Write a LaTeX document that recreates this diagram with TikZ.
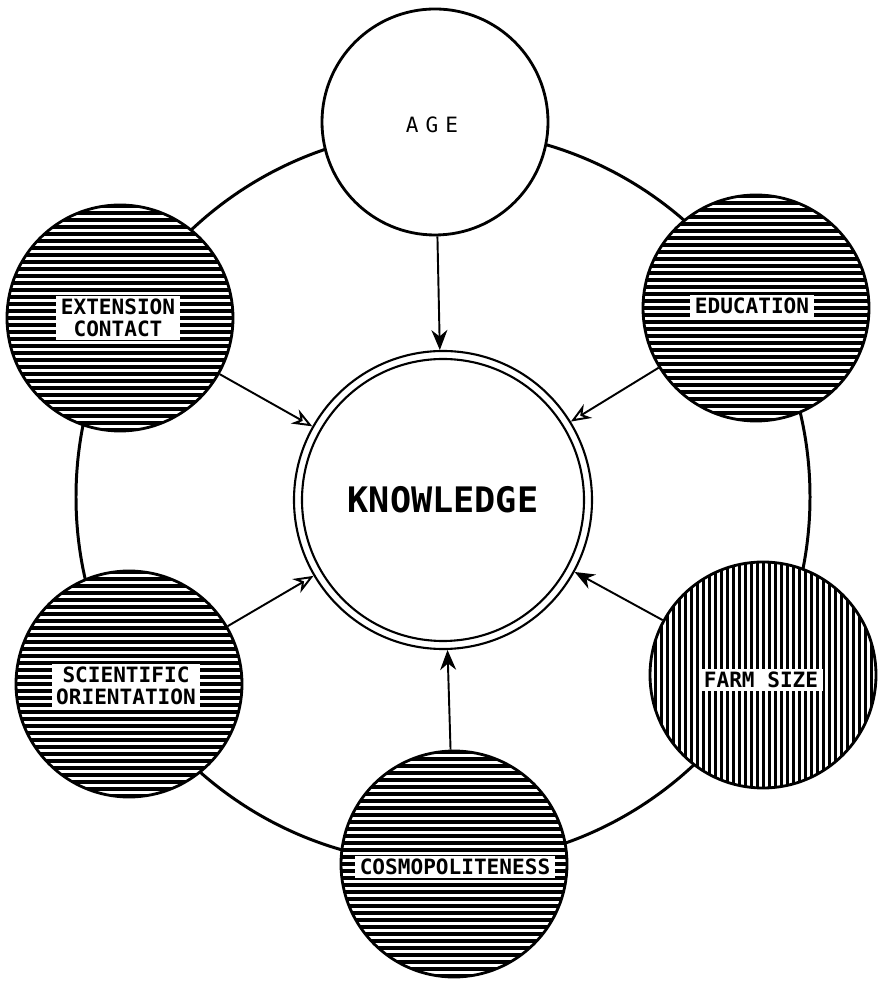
\documentclass[tikz,border=0pt]{standalone}
\usepackage{fontspec}
\newfontfamily\letterfont{DejaVu Sans Mono}
\usepackage{tikz}
\usetikzlibrary{arrows.meta}

\begin{document}
\begin{tikzpicture}[
  factor/.style={draw, circle, line width=1.6pt, fill=white, minimum size=4.52cm},
  hlines/.style={path picture={\foreach \k in {-17,...,17}
      \draw[line width=0.062cm] ([yshift=\k*0.14cm]path picture bounding box.west)
        -- ([yshift=\k*0.14cm]path picture bounding box.east);}},
  vlines/.style={path picture={\foreach \k in {-20,...,20}
      \draw[line width=0.06cm] ([xshift=\k*0.12cm]path picture bounding box.north)
        -- ([xshift=\k*0.12cm]path picture bounding box.south);}},
  tag/.style={fill=white, font=\letterfont\bfseries\fontsize{12}{12.5}\selectfont, align=center,
    inner xsep=2.5pt, inner ysep=1.5pt},
  feed/.style={line width=1.1pt, -{Stealth[length=4mm, width=3.2mm, open]}},
  feedfill/.style={line width=1.1pt, -{Stealth[length=4mm, width=3.2mm]}},
]
\useasboundingbox (-8.86,-9.64) rectangle (8.80,10.00);
% ring joining the six factors
\coordinate (hub) at (0,0.06);
\draw[line width=1.7pt] (hub) circle (7.34);

% the factors
\node[factor] (age) at (-0.16, 7.56) {};
\node[factor, hlines] (edu) at (6.26, 3.84) {};
\node[factor, hlines] (ext) at (-6.46, 3.64) {};
\node[factor, hlines] (sci) at (-6.28, -3.68) {};
\node[factor, vlines] (farm) at (6.40, -3.50) {};
\node[factor, hlines] (cosmo) at (0.22, -7.28) {};

\node[tag, fill=none, font=\letterfont\fontsize{12}{12.5}\selectfont] (agetag) at (-0.22, 7.50)
  {A\kern4pt G\kern4pt E};
\node[tag] (edutag) at (6.18, 3.88) {EDUCATION};
\node[tag] (exttag) at (-6.50, 3.64) {EXTENSION\\CONTACT};
\node[tag] (scitag) at (-6.34, -3.72) {SCIENTIFIC\\ORIENTATION};
\node[tag] (farmtag) at (6.36, -3.60) {FARM SIZE};
\node[tag] (cosmotag) at (0.24, -7.34) {COSMOPOLITENESS};

% knowledge in the middle, double rim
\node[draw, circle, line width=1.2pt, minimum size=5.96cm] (know) at (0,0) {};
\node[draw, circle, line width=1.2pt, minimum size=5.64cm,
  font=\letterfont\bfseries\fontsize{20}{22}\selectfont] (knowin) at (know) {KNOWLEDGE};

% every factor points at knowledge
\draw[feedfill] (age) -- (know);
\draw[feed] (edu) -- (know);
\draw[feed] (ext) -- (know);
\draw[feed] (sci) -- (know);
\draw[feedfill] (farm) -- (know);
\draw[feedfill] (cosmo) -- (know);
\end{tikzpicture}
\end{document}
